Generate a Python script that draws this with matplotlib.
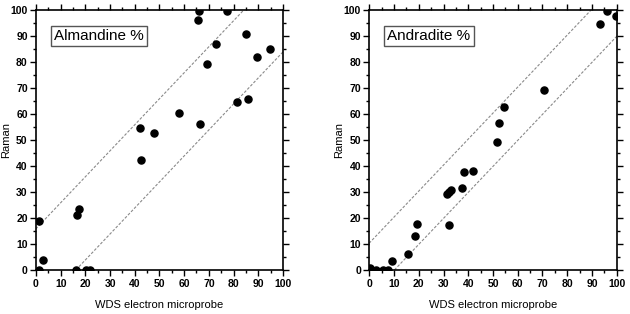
import matplotlib
matplotlib.use('Agg')
from matplotlib import pyplot as plt
from matplotlib.ticker import MultipleLocator
import numpy as np

plt.rcParams['font.family'] = ['Liberation Sans', 'DejaVu Sans']

# Almandine % : WDS vs Raman
almX = [66.2, 65.6, 77.3, 73.0, 69.2, 85.1, 94.6, 89.5, 81.4, 85.7, 58.1, 66.5,
        42.1, 47.6, 42.6, 1.3, 16.7, 17.5, 2.7, 1.3, 16.3, 20.1, 21.7]
almY = [99.8, 96.2, 99.8, 87.2, 79.3, 90.9, 85.2, 82.1, 64.6, 66.0, 60.6, 56.4,
        54.6, 52.7, 42.4, 19.0, 21.2, 23.6, 3.8, 0.0, 0.0, 0.0, 0.0]
almBand = 16

# Andradite % : WDS vs Raman
andX = [96.1, 93.3, 99.6, 70.7, 54.3, 52.3, 51.5, 38.1, 41.9, 37.5, 31.5, 32.3,
        33.0, 32.2, 19.3, 18.6, 15.8, 9.3, 2.6, 5.4, 7.4, 0.2]
andY = [99.8, 94.6, 97.9, 69.3, 62.9, 56.5, 49.3, 37.7, 38.2, 31.6, 29.4, 30.2,
        30.8, 17.3, 17.8, 13.1, 6.4, 3.6, 0.0, 0.0, 0.0, 1.0]
andUpper = 10.5
andLower = 10

fig = plt.figure(figsize=(6.3, 3.14), dpi=100)

def drawPanel(rect, xs, ys, up, low, label):
	ax = fig.add_axes(rect)
	line = np.array([-10, 110])
	ax.plot(line, line + up, color='#8a8a8a', lw=0.8, dashes=(2.5, 1.5), zorder=1)
	ax.plot(line, line - low, color='#8a8a8a', lw=0.8, dashes=(2.5, 1.5), zorder=1)
	ax.scatter(xs, ys, s=26, color='black', zorder=3)
	ax.set_xlim(0, 100)
	ax.set_ylim(0, 100)
	ax.xaxis.set_major_locator(MultipleLocator(10))
	ax.xaxis.set_minor_locator(MultipleLocator(5))
	ax.yaxis.set_major_locator(MultipleLocator(10))
	ax.yaxis.set_minor_locator(MultipleLocator(5))
	ax.tick_params(which='both', direction='out', top=True, right=True,
		labeltop=False, labelright=False, labelsize=7.5, width=1, pad=2)
	ax.tick_params(which='major', length=4)
	ax.tick_params(which='minor', length=2)
	for t in ax.get_xticklabels() + ax.get_yticklabels():
		t.set_fontweight('bold')
	for s in ax.spines.values():
		s.set_linewidth(1.2)
	ax.set_xlabel('WDS electron microprobe', fontsize=8, labelpad=8)
	ax.set_ylabel('Raman', fontsize=8)
	ax.yaxis.set_label_coords(-0.1, 0.5)
	ax.text(7.3, 90, label, fontsize=11, ha='left', va='center',
		bbox=dict(boxstyle='square,pad=0.2', facecolor='white', edgecolor='#555555', lw=1.0),
		zorder=4)
	return ax

drawPanel([0.0571, 0.139, 0.392, 0.828], almX, almY, almBand, almBand, 'Almandine %')
drawPanel([0.5862, 0.139, 0.3927, 0.828], andX, andY, andUpper, andLower, 'Andradite %')

fig.savefig('out.png', dpi=100)
